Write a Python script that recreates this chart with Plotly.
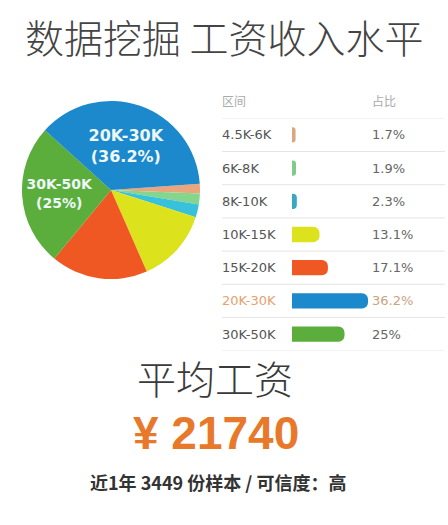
import plotly.graph_objects as go

# ---- data ----
ranges = ["4.5K-6K", "6K-8K", "8K-10K", "10K-15K", "15K-20K", "20K-30K", "30K-50K"]
shares = [1.7, 1.9, 2.3, 13.1, 17.1, 36.2, 25]
share_labels = ["1.7%", "1.9%", "2.3%", "13.1%", "17.1%", "36.2%", "25%"]
pie_order = ["4.5K-6K", "6K-8K", "8K-10K", "10K-15K", "15K-20K", "30K-50K", "20K-30K"]
pie_colors = {"4.5K-6K": "#E9A57C", "6K-8K": "#86D58C", "8K-10K": "#38C1DA", "10K-15K": "#DCE31C",
              "15K-20K": "#EF5823", "20K-30K": "#1B89CC", "30K-50K": "#5BAE3B"}
bar_colors = ["#D9A97D", "#80CB8C", "#3AA8C0", "#DCE31C", "#EF5823", "#1B89CC", "#5BAE3B"]
highlight = "20K-30K"
title_text = "数据挖掘 工资收入水平"
avg_title = "平均工资"
avg_salary = 21740
sample_n = 3449
footer_text = f"近1年 {sample_n} 份样本 / 可信度：高"
header_left, header_right = "区间", "占比"

W, H = 448, 525
fig = go.Figure()

# pie: only large slices get a label
lookup = {r: (v, p) for r, v, p in zip(ranges, shares, share_labels)}
pie_vals = [lookup[r][0] for r in pie_order]
pie_text = [f"<b>{r}<br>({lookup[r][1]})</b>" if lookup[r][0] > 20 else "" for r in pie_order]
cx, cy, d = 111, 190, 178
fig.add_trace(go.Pie(
    labels=pie_order, values=pie_vals, sort=False, direction="clockwise", rotation=86,
    marker=dict(colors=[pie_colors[r] for r in pie_order], line=dict(width=0)),
    text=pie_text, textinfo="text", textposition="inside",
    insidetextorientation="horizontal",
    insidetextfont=dict(family="DejaVu Sans", size=16, color="#EEF8FA"),
    domain=dict(x=[(cx - d / 2) / W, (cx + d / 2) / W],
                y=[1 - (cy + d / 2) / H, 1 - (cy - d / 2) / H]),
    showlegend=False, hoverinfo="label+value",
))

# table bars
fig.add_trace(go.Bar(
    x=shares, y=ranges, orientation="h", xaxis="x2", yaxis="y2",
    marker=dict(color=bar_colors, cornerradius=6, line=dict(width=0)),
    width=0.46, showlegend=False, hoverinfo="y+x",
))

row_top, row_bot = 118.4, 350.6
fig.update_layout(
    width=W, height=H, margin=dict(l=0, r=0, t=0, b=0),
    paper_bgcolor="white", plot_bgcolor="white",
    xaxis2=dict(domain=[292 / W, (292 + 147) / W], range=[0, 70], visible=False,
                anchor="y2", fixedrange=True),
    yaxis2=dict(domain=[1 - row_bot / H, 1 - row_top / H], type="category",
                categoryarray=ranges, range=[6.5, -0.5], visible=False,
                anchor="x2", fixedrange=True),
)

# separator lines between rows
shapes = []
for i in range(len(ranges) + 1):
    shapes.append(dict(type="line", xref="paper", yref="y2",
                       x0=222 / W, x1=445 / W, y0=i - 0.5, y1=i - 0.5,
                       line=dict(color="#E4E4E4", width=1)))
fig.update_layout(shapes=shapes)

ann = []
# header
ann.append(dict(text=header_left, x=220 / W, y=1 - 101 / H, xref="paper", yref="paper",
                xanchor="left", yanchor="middle", showarrow=False,
                font=dict(family="Noto Sans CJK SC", size=12, color="#AAAAAA")))
ann.append(dict(text=header_right, x=370 / W, y=1 - 101 / H, xref="paper", yref="paper",
                xanchor="left", yanchor="middle", showarrow=False,
                font=dict(family="Noto Sans CJK SC", size=12, color="#AAAAAA")))
for r, p in zip(ranges, share_labels):
    col_l = "#E6A16E" if r == highlight else "#555555"
    col_r = "#C9A27E" if r == highlight else "#666666"
    ann.append(dict(text=r, x=220 / W, y=r, xref="paper", yref="y2",
                    xanchor="left", yanchor="middle", showarrow=False,
                    font=dict(family="DejaVu Sans", size=13, color=col_l)))
    ann.append(dict(text=p, x=370 / W, y=r, xref="paper", yref="y2",
                    xanchor="left", yanchor="middle", showarrow=False,
                    font=dict(family="DejaVu Sans", size=13, color=col_r)))

# title
ann.append(dict(text=title_text, x=224 / W, y=1 - 36 / H, xref="paper", yref="paper",
                xanchor="center", yanchor="middle", showarrow=False,
                font=dict(family="Noto Sans CJK SC", size=39, color="#444444", weight=300)))
# average salary
ann.append(dict(text=avg_title, x=215 / W, y=1 - 377 / H, xref="paper", yref="paper",
                xanchor="center", yanchor="middle", showarrow=False,
                font=dict(family="Noto Sans CJK SC", size=39, color="#3A3A3A", weight=300)))
ann.append(dict(text=f"<b>¥ {avg_salary}</b>", x=216 / W, y=1 - 433 / H, xref="paper", yref="paper",
                xanchor="center", yanchor="middle", showarrow=False,
                font=dict(family="Liberation Sans", size=46, color="#E8792B")))
ann.append(dict(text=f"<b>{footer_text}</b>", x=218 / W, y=1 - 482 / H, xref="paper", yref="paper",
                xanchor="center", yanchor="middle", showarrow=False,
                font=dict(family="Noto Sans CJK SC", size=18, color="#333333")))
fig.update_layout(annotations=ann)

fig.write_html("out.html", config={"displayModeBar": False},
               post_script="document.body.style.margin='0';document.body.style.padding='0';")
